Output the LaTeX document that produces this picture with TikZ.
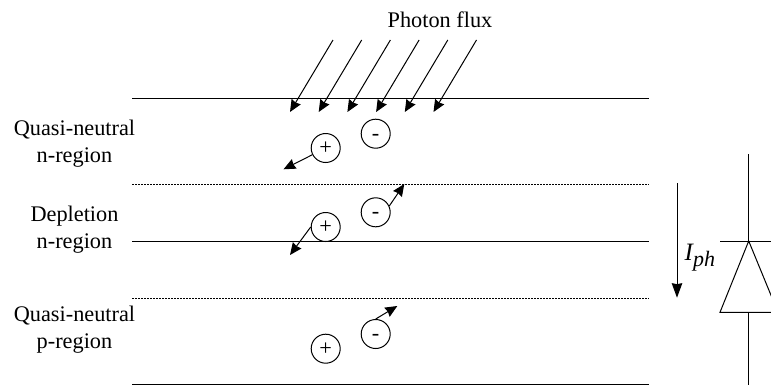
\documentclass[tikz,border=0pt]{standalone}
\usepackage{fontspec}
\setmainfont{Liberation Serif}
\usetikzlibrary{arrows.meta}

\begin{document}
\begin{tikzpicture}[
    x=1pt, y=-1pt,
    font=\fontsize{22.3}{27}\selectfont,
    % ---- carriers ----
    carrier/.style={
        circle,
        draw,
        line width=1pt,
        minimum size=29pt,
        inner sep=0pt,
        text height=13pt,
        text depth=0pt
    },
    % ---- lines and arrows ----
    layer/.style={line width=1pt},
    junction/.style={line width=1pt, dash pattern=on 2pt off 1pt},
    flow/.style={line width=1pt, -{Stealth[length=12pt, width=10.5pt, inset=1pt]}},
    wire/.style={line width=1pt},
    % ---- labels ----
    region/.style={align=center, inner sep=0pt}
]
\useasboundingbox (0,0) rectangle (771,386);
\clip (0,0) rectangle (771,386);

% ---------- layer boundaries ----------
\coordinate (TopL) at (132,98);
\coordinate (TopR) at (649,98);
\coordinate (UpL) at (132,184);
\coordinate (UpR) at (649,184);
\coordinate (MidL) at (132,241);
\coordinate (MidR) at (649,241);
\coordinate (LowL) at (132,298.5);
\coordinate (LowR) at (649,298.5);
\coordinate (BotL) at (132,384.5);
\coordinate (BotR) at (649,384.5);

\draw[layer] (TopL) -- (TopR);
\draw[junction] (UpL) -- (UpR);
\draw[layer] (MidL) -- (MidR);
\draw[junction] (LowL) -- (LowR);
\draw[layer] (BotL) -- (BotR);

% ---------- labels ----------
\node[region] (Flux) at (440,20) {Photon flux};
\node[region] (QuasiN) at (74.5,144) {Quasi-neutral\\n-region};
\node[region] (Depl) at (74.5,229.5) {Depletion\\n-region};
\node[region] (QuasiP) at (74.5,330) {Quasi-neutral\\p-region};

% ---------- photon arrows ----------
\foreach \i in {0,...,5} {
    \coordinate (PhS\i) at (333+28.7*\i,40);
    \coordinate (PhE\i) at (290+28.7*\i,112);
    \draw[flow] (PhS\i) -- (PhE\i);
}

% ---------- carriers ----------
\node[carrier] (Plus1) at (325.7,148) {+};
\node[carrier] (Minus1) at (375.7,133.7) {-};
\node[carrier] (Plus2) at (325.7,227) {+};
\node[carrier] (Minus2) at (375.7,212.3) {-};
\node[carrier] (Plus3) at (325.7,348.7) {+};
\node[carrier] (Minus3) at (375.7,334) {-};

\coordinate (Plus1End) at (283.5,169.3);
\coordinate (Plus2End) at (290,255);
\coordinate (Minus2End) at (404.3,184);
\coordinate (Minus3End) at (397.3,306);

\draw[flow] (Plus1) -- (Plus1End);
\draw[flow] (Plus2.west) -- (Plus2End);
\draw[flow] (Minus2.25) -- (Minus2End);
\draw[flow] (Minus3.north) -- (Minus3End);

% ---------- photocurrent ----------
\coordinate (IphS) at (677,183.3);
\coordinate (IphE) at (677,297.7);
\draw[flow, -{Stealth[length=14.5pt, width=10.5pt, inset=1pt]}] (IphS) -- (IphE);
\node[inner sep=0pt, anchor=base west] (Iph) at (684.5,260)
    {\fontsize{25}{28}\selectfont\itshape I\raisebox{-6pt}{\fontsize{22}{28}\selectfont ph}};

% ---------- diode ----------
\coordinate (DTop) at (748.7,154.3);
\coordinate (DApex) at (748.7,241);
\coordinate (DBarL) at (720,241);
\coordinate (DBarR) at (778,241);
\coordinate (DBaseL) at (720,312.3);
\coordinate (DBaseR) at (778,312.3);
\coordinate (DBase) at (748.7,312.3);
\coordinate (DBot) at (748.7,384.5);

\draw[wire] (DTop) -- (DApex);
\draw[wire] (DBarL) -- (DBarR);
\draw[wire] (DApex) -- (DBaseL) -- (DBaseR) -- cycle;
\draw[wire] (DBase) -- (DBot);

\end{tikzpicture}
\end{document}
